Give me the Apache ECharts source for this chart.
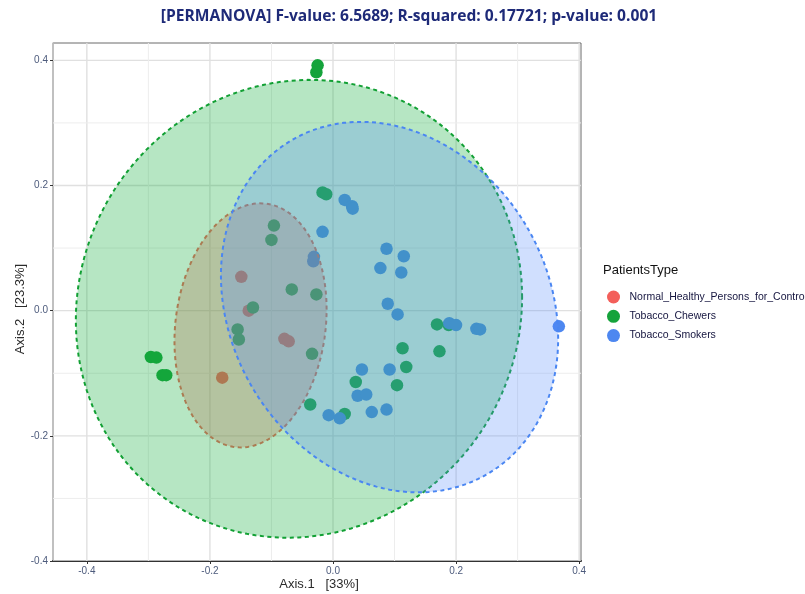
<!DOCTYPE html>
<html>
<head>
<meta charset="utf-8">
<title>PCoA – PatientsType</title>
<script src="https://cdn.jsdelivr.net/npm/echarts@6/dist/echarts.min.js"></script>
<style>
  html, body { margin: 0; padding: 0; background: #ffffff; }
  #chart { width: 805px; height: 594px; }
</style>
</head>
<body>
<div id="chart"></div>
<script>
// ---- data -----------------------------------------------------------------
const groupNames = ['Normal_Healthy_Persons_for_Control', 'Tobacco_Chewers', 'Tobacco_Smokers'];

// ordination scores [Axis.1, Axis.2]
const normalScores = [
  [-0.149, 0.054], [-0.137, 0.000], [-0.079, -0.045], [-0.072, -0.049], [-0.180, -0.107]
];
const chewerScores = [
  [-0.025, 0.392], [-0.027, 0.381], [-0.017, 0.189], [-0.011, 0.186], [-0.096, 0.136],
  [-0.100, 0.113], [-0.067, 0.034], [-0.027, 0.026], [-0.130, 0.005], [-0.155, -0.030],
  [-0.153, -0.046], [-0.034, -0.069], [-0.296, -0.074], [-0.287, -0.075], [-0.277, -0.103],
  [-0.271, -0.103], [-0.037, -0.150], [0.019, -0.165], [0.169, -0.022], [0.188, -0.023],
  [0.113, -0.060], [0.173, -0.065], [0.119, -0.090], [0.037, -0.114], [0.104, -0.119]
];
const smokerScores = [
  [-0.017, 0.126], [-0.031, 0.086], [-0.032, 0.079], [0.019, 0.177], [0.031, 0.167],
  [0.032, 0.163], [0.087, 0.099], [0.115, 0.087], [0.077, 0.068], [0.111, 0.061],
  [0.089, 0.011], [0.105, -0.006], [0.189, -0.020], [0.200, -0.023], [0.233, -0.029],
  [0.239, -0.030], [0.367, -0.025], [0.047, -0.094], [0.092, -0.094], [0.040, -0.136],
  [0.054, -0.134], [-0.007, -0.167], [0.011, -0.172], [0.063, -0.162], [0.087, -0.158]
];

// confidence ellipses: [centre x, centre y, half width, half height, correlation]
const normalEllipse = [-0.134, -0.0235, 0.1236, 0.195, 0.13];
const chewerEllipse = [-0.0553, 0.003, 0.3626, 0.3658, 0.05];
const smokerEllipse = [0.0919, 0.0057, 0.274, 0.296, -0.17];

// axis ticks
const majorTicks = [-0.4, -0.2, 0.0, 0.2, 0.4];
const minorTicks = [-0.3, -0.1, 0.1, 0.3];

// ---- styling ----------------------------------------------------------------
const pointColors = ['#f35f5a', '#15a33b', '#4d87f0'];
const fillColors = ['rgba(245,100,95,0.32)', 'rgba(20,175,60,0.31)', 'rgba(85,140,250,0.28)'];
const strokeColors = ['#f0645c', '#12a034', '#4a86f2'];
const tickLabelColor = '#4d5b7c';

const X_MIN = -0.455, X_MAX = 0.403, Y_MIN = -0.4, Y_MAX = 0.4277;

// gridline records: [value, orientation (0 = vertical, 1 = horizontal), isMajor]
const gridData = [];
majorTicks.forEach(v => { gridData.push([v, 0, 1]); gridData.push([v, 1, 1]); });
minorTicks.forEach(v => { gridData.push([v, 0, 0]); gridData.push([v, 1, 0]); });

function renderGridLine(params, api) {
  const cs = params.coordSys;
  const v = api.value(0), horizontal = api.value(1) === 1, major = api.value(2) === 1;
  let shape;
  if (horizontal) {
    const y = api.coord([0, v])[1];
    shape = { x1: cs.x, y1: y, x2: cs.x + cs.width, y2: y };
  } else {
    const x = api.coord([v, 0])[0];
    shape = { x1: x, y1: cs.y, x2: x, y2: cs.y + cs.height };
  }
  return {
    type: 'line',
    shape: shape,
    style: { stroke: major ? '#e0e0e0' : '#ededed', lineWidth: major ? 1.4 : 1 }
  };
}

function renderEllipse(params, api) {
  const cx = api.value(0), cy = api.value(1), hw = api.value(2), hh = api.value(3), r = api.value(4);
  const k = Math.sqrt(1 - r * r);
  const pts = [];
  const n = 160;
  for (let i = 0; i < n; i++) {
    const t = (i / n) * Math.PI * 2;
    const x = cx + hw * Math.cos(t);
    const y = cy + hh * (r * Math.cos(t) + k * Math.sin(t));
    pts.push(api.coord([x, y]));
  }
  const g = params.dataIndex;
  return {
    type: 'polygon',
    shape: { points: pts },
    style: {
      fill: fillColors[g],
      stroke: strokeColors[g],
      lineWidth: 2,
      lineDash: [4, 3.5]
    }
  };
}

const chart = echarts.init(document.getElementById('chart'), null, { renderer: 'canvas' });

const scoreSets = [normalScores, chewerScores, smokerScores];

const option = {
  animation: false,
  backgroundColor: '#ffffff',
  grid: {
    left: 53, right: 224, top: 43, bottom: 33,
    outerBoundsMode: 'none', containLabel: false,
    show: true, backgroundColor: '#ffffff', borderColor: '#6a6a6a', borderWidth: 1
  },
  xAxis: {
    type: 'value', min: X_MIN, max: X_MAX,
    axisLine: { show: true, onZero: false, lineStyle: { color: '#333333', width: 2 } },
    axisTick: { show: true, customValues: majorTicks, length: 3, lineStyle: { color: '#333333', width: 1 } },
    axisLabel: {
      customValues: majorTicks, formatter: v => v.toFixed(1), margin: 5,
      fontFamily: 'Liberation Sans', fontSize: 10, color: tickLabelColor
    },
    splitLine: { show: false }
  },
  yAxis: {
    type: 'value', min: Y_MIN, max: Y_MAX,
    axisLine: { show: true, onZero: false, lineStyle: { color: '#c4c4c4', width: 1.5 } },
    axisTick: { show: true, customValues: majorTicks, length: 3, lineStyle: { color: '#333333', width: 1 } },
    axisLabel: {
      customValues: majorTicks, formatter: v => v.toFixed(1), margin: 5,
      fontFamily: 'Liberation Sans', fontSize: 10, color: tickLabelColor
    },
    splitLine: { show: false }
  },
  legend: {
    data: groupNames,
    orient: 'vertical', left: 602, top: 285.5,
    itemWidth: 22, itemHeight: 13, itemGap: 6.3,
    icon: 'circle',
    textStyle: { fontFamily: 'Liberation Sans', fontSize: 10.5, color: '#15153f' }
  },
  graphic: [
    {
      type: 'text', x: 409, y: 17,
      style: {
        text: '[PERMANOVA] F-value: 6.5689; R-squared: 0.17721; p-value: 0.001',
        fontFamily: 'Open Sans', fontWeight: 'bold', fontSize: 15.6, fill: '#1e2a78',
        textAlign: 'center', textVerticalAlign: 'middle'
      }
    },
    {
      type: 'text', x: 319, y: 584,
      style: {
        text: 'Axis.1   [33%]', fontFamily: 'Liberation Sans', fontSize: 13, fill: '#2b2b2b',
        textAlign: 'center', textVerticalAlign: 'middle'
      }
    },
    {
      type: 'text', x: 20, y: 309, rotation: Math.PI / 2,
      style: {
        text: 'Axis.2   [23.3%]', fontFamily: 'Liberation Sans', fontSize: 13, fill: '#2b2b2b',
        textAlign: 'center', textVerticalAlign: 'middle'
      }
    },
    {
      type: 'text', x: 603, y: 270,
      style: {
        text: 'PatientsType', fontFamily: 'Liberation Sans', fontSize: 13, fill: '#111111',
        textAlign: 'left', textVerticalAlign: 'middle'
      }
    }
  ],
  series: [
    {
      name: 'gridlines', type: 'custom', renderItem: renderGridLine, data: gridData,
      z: 1, silent: true, clip: true
    },
    ...groupNames.map((name, i) => ({
      name: name, type: 'scatter', data: scoreSets[i],
      symbol: 'circle', symbolSize: 12.5, z: 2,
      itemStyle: { color: pointColors[i], opacity: 1 }
    })),
    {
      name: 'ellipses', type: 'custom', renderItem: renderEllipse,
      data: [normalEllipse, chewerEllipse, smokerEllipse],
      z: 3, silent: true
    }
  ]
};

chart.setOption(option);
</script>
</body>
</html>
